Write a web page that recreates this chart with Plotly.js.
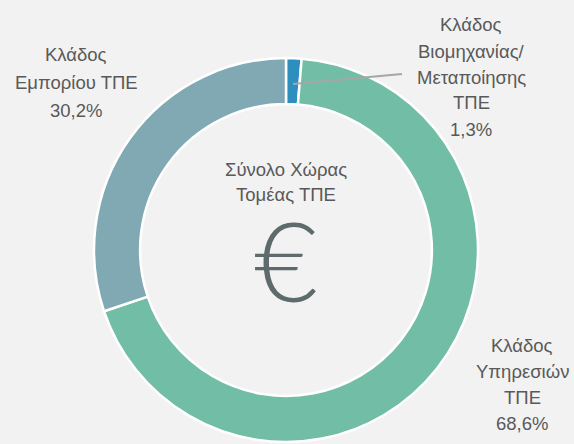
<!DOCTYPE html>
<html>
<head>
<meta charset="utf-8">
<script src="https://cdn.plot.ly/plotly-3.0.1.min.js"></script>
<style>html,body{margin:0;padding:0;background:#F2F2F2;}#chart{width:574px;height:444px;}</style>
</head>
<body>
<div id="chart"></div>
<script>
// ---- data ----
const categories = ["Κλάδος Βιομηχανίας/ Μεταποίησης ΤΠΕ", "Κλάδος Υπηρεσιών ΤΠΕ", "Κλάδος Εμπορίου ΤΠΕ"];
const shares = [1.3, 68.6, 30.2];
const sliceColors = ["#2E8EBE", "#72BDA5", "#80A9B4"];
const labelLines = [
  ["Κλάδος", "Βιομηχανίας/", "Μεταποίησης", "ΤΠΕ"],
  ["Κλάδος", "Υπηρεσιών", "ΤΠΕ"],
  ["Κλάδος", "Εμπορίου ΤΠΕ"]
];
const centerTitle = ["Σύνολο Χώρας", "Τομέας ΤΠΕ"];
const centerSymbol = "€";

// ---- layout helpers ----
const W = 574, H = 444;
const px = x => x / W;
const py = y => 1 - y / H;
const fmt = v => v.toFixed(1).replace(".", ",") + "%";
const txtFont = {family: "Liberation Sans, Arial, sans-serif", size: 18.5, color: "#595959"};

// label anchor positions (first line center) and line spacing
const labelPos = [
  {x: 471, y: 25, dy: 26},
  {x: 522, y: 345, dy: 26},
  {x: 76, y: 55, dy: 27.5}
];

const annotations = [];
labelLines.forEach((lines, i) => {
  const all = lines.concat([fmt(shares[i])]);
  all.forEach((t, k) => {
    annotations.push({
      xref: "paper", yref: "paper",
      x: px(labelPos[i].x), y: py(labelPos[i].y + k * labelPos[i].dy),
      xanchor: "center", yanchor: "middle",
      text: t, showarrow: false, font: txtFont
    });
  });
});
centerTitle.forEach((t, k) => {
  annotations.push({
    xref: "paper", yref: "paper",
    x: px(286), y: py(169 + k * 25),
    xanchor: "center", yanchor: "middle",
    text: t, showarrow: false, font: txtFont
  });
});
annotations.push({
  xref: "paper", yref: "paper",
  x: px(286), y: py(259),
  xanchor: "center", yanchor: "middle",
  height: 90, valign: "middle",
  text: centerSymbol, showarrow: false,
  font: {family: "Lato, Liberation Sans, Arial, sans-serif", size: 110, weight: 300, color: "#5E6B6D"}
});

const trace = {
  type: "pie",
  labels: categories,
  values: shares,
  hole: 0.76,
  sort: false,
  direction: "clockwise",
  rotation: 0,
  textinfo: "none",
  hoverinfo: "label+percent",
  marker: {colors: sliceColors, line: {color: "#FFFFFF", width: 2.5}},
  domain: {x: [px(93), px(479)], y: [py(442), py(58)]},
  showlegend: false
};

const layout = {
  width: W, height: H,
  margin: {l: 0, r: 0, t: 0, b: 0},
  paper_bgcolor: "#F2F2F2",
  plot_bgcolor: "#F2F2F2",
  showlegend: false,
  annotations: annotations,
  shapes: [{
    type: "line", xref: "paper", yref: "paper",
    x0: px(293), y0: py(84), x1: px(402), y1: py(74),
    line: {color: "#A6A6A6", width: 2}
  }]
};

Plotly.newPlot("chart", [trace], layout, {displayModeBar: false, staticPlot: true});
</script>
</body>
</html>
